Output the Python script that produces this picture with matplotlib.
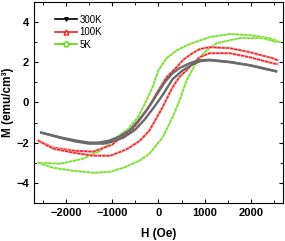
import numpy as np
import matplotlib.pyplot as plt
from matplotlib.ticker import MultipleLocator

plt.rcParams['font.family'] = ['Liberation Sans', 'DejaVu Sans']

# 300K loop: descending branch (high field -> low field) and ascending branch
h_300_down = [2550, 2200, 1978, 1543, 1109, 891, 674, 450, 304, 150, 22, -130, -261,
              -450, -630, -850, -1065, -1300, -1500, -1783, -2100, -2543]
m_300_down = [1.55, 1.75, 1.85, 2.02, 2.12, 2.1, 1.95, 1.7, 1.45, 1.05, 0.6, 0.05, -0.4,
              -0.95, -1.4, -1.7, -1.9, -2.0, -2.0, -1.9, -1.75, -1.5]
h_300_up = [-2543, -2100, -1783, -1500, -1196, -1000, -760, -500, -300, -100, 100, 304,
            500, 700, 900, 1109, 1543, 1978, 2200, 2550]
m_300_up = [-1.5, -1.78, -1.95, -2.05, -2.05, -1.95, -1.75, -1.35, -0.85, -0.25, 0.4, 1.15,
            1.55, 1.85, 2.05, 2.1, 2.0, 1.85, 1.72, 1.55]

# 100K loop
h_100_down = [2580, 2478, 1978, 1543, 1109, 891, 739, 550, 391, 174, -43, -200, -413,
              -600, -848, -1000, -1413, -1848, -2283, -2608]
m_100_down = [2.1, 2.2, 2.5, 2.7, 2.75, 2.65, 2.45, 2.15, 1.75, 1.25, 0.45, -0.2, -0.9,
              -1.45, -1.8, -2.1, -2.45, -2.4, -2.25, -1.9]
h_100_up = [-2608, -2283, -1848, -1413, -1043, -760, -630, -400, -196, 87, 304, 450,
            609, 891, 1109, 1543, 1978, 2478, 2580]
m_100_up = [-1.9, -2.3, -2.5, -2.65, -2.65, -2.4, -2.25, -1.9, -1.4, -0.25, 0.75, 1.25,
            1.6, 2.25, 2.45, 2.45, 2.25, 1.95, 1.9]

# 5K loop
h_5_down = [2630, 2413, 1978, 1543, 1109, 674, 400, 174, 0, -130, -280, -450, -650,
            -850, -1000, -1260, -1630, -2130, -2608]
m_5_down = [3.0, 3.2, 3.35, 3.4, 3.25, 2.9, 2.6, 2.2, 1.6, 0.75, 0.0, -0.75, -1.3,
            -1.65, -1.9, -2.4, -2.8, -3.05, -3.0]
h_5_up = [-2608, -2283, -1848, -1413, -1043, -760, -413, -196, 87, 304, 457, 609,
          826, 1000, 1261, 1760, 2261, 2565]
m_5_up = [-3.0, -3.25, -3.4, -3.5, -3.45, -3.25, -2.9, -2.55, -1.75, -0.75, 0.1, 1.1,
          2.0, 2.5, 2.95, 3.2, 3.2, 3.0]

fig = plt.figure(figsize=(2.85, 2.41), dpi=100)
ax = fig.add_axes([0.119, 0.158, 0.874, 0.834])

green = '#77dd22'
red = '#ee2222'

# 5K
for h, m in [(h_5_down, m_5_down), (h_5_up, m_5_up)]:
    ax.plot(h, m, color='#bbee99', lw=1.6)
    ax.plot(h, m, color=green, lw=1.0, ls=(0, (2.2, 0.8)))
# 100K
for h, m in [(h_100_down, m_100_down), (h_100_up, m_100_up)]:
    ax.plot(h, m, color='#f7a0a0', lw=1.8)
    ax.plot(h, m, color=red, lw=1.0, ls=(0, (2.2, 0.8)))
# 300K
for h, m in [(h_300_down, m_300_down), (h_300_up, m_300_up)]:
    ax.plot(h, m, color='#6a6a6a', lw=1.7)

# legend handles
ax.plot([], [], color='black', marker='v', ms=2.5, lw=1.2, label='300K')
ax.plot([], [], color=red, marker='^', mfc='white', ms=3.5, lw=1.2, label='100K')
ax.plot([], [], color='#55dd00', marker='o', mfc='white', ms=3.5, lw=1.2, label='5K')
ax.legend(loc='upper left', bbox_to_anchor=(0.05, 0.98), frameon=False, fontsize=7,
          handlelength=2.3, handletextpad=0.2, labelspacing=0.25)

ax.set_xlim(-2700, 2700)
ax.set_ylim(-5, 5)
ax.xaxis.set_major_locator(MultipleLocator(1000))
ax.xaxis.set_minor_locator(MultipleLocator(500))
ax.yaxis.set_major_locator(MultipleLocator(2))
ax.yaxis.set_minor_locator(MultipleLocator(1))
ax.tick_params(which='both', direction='in', top=True, right=True, labelsize=8)
ax.tick_params(which='major', length=3)
ax.tick_params(which='minor', length=2)
for t in ax.get_xticklabels() + ax.get_yticklabels():
    t.set_fontweight('bold')
ax.set_xlabel('H (Oe)', fontsize=8.5, fontweight='bold', labelpad=7)
ax.set_ylabel('M (emu/cm³)', fontsize=8.5, fontweight='bold', labelpad=0)
ax.yaxis.set_label_coords(-0.078, 0.5)

fig.savefig('out.png', dpi=100)
